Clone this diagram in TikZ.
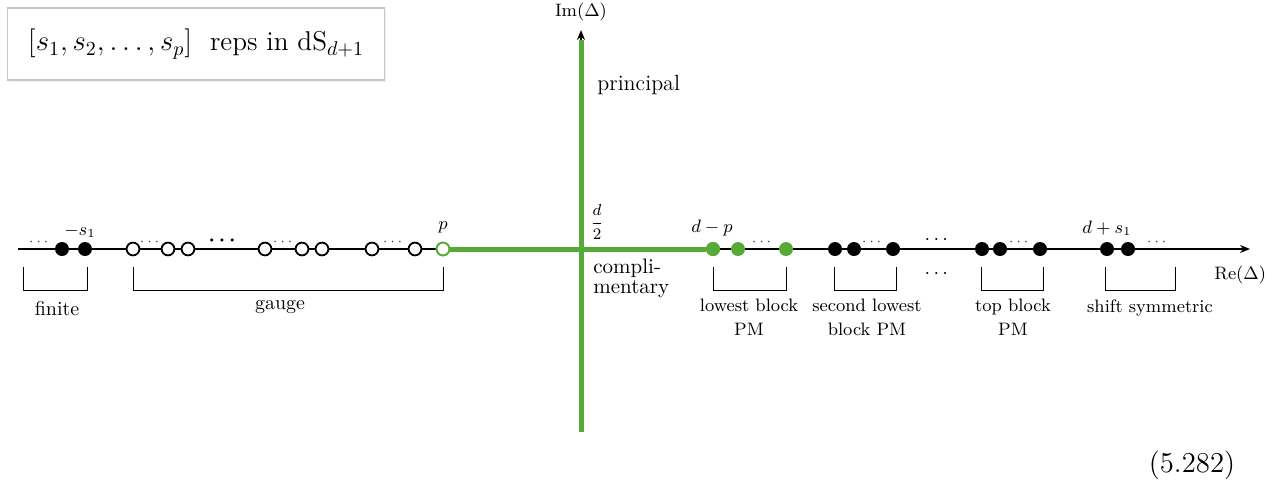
\documentclass[tikz,border=0pt]{standalone}
\usepackage{amsmath}
\usetikzlibrary{arrows.meta,shadows}
\definecolor{pgreen}{RGB}{86,170,56}
\begin{document}
\begin{tikzpicture}[x=0.5pt,y=-0.5pt,
  fdot/.style={circle,fill=black,inner sep=0pt,minimum size=7pt},
  odot/.style={circle,draw=black,fill=white,line width=0.9pt,inner sep=0pt,minimum size=6.4pt},
  gdot/.style={circle,fill=pgreen,inner sep=0pt,minimum size=7pt},
  godot/.style={circle,draw=pgreen,fill=white,line width=0.9pt,inner sep=0pt,minimum size=6.4pt},
  tdots/.style={font=\scriptsize,inner sep=0pt,text=black!80},
  bdots/.style={font=\normalsize,inner sep=0pt},
  mlab/.style={font=\fontsize{9}{11}\selectfont,inner sep=0pt},
  lab/.style={font=\fontsize{9}{12}\selectfont,align=center,inner sep=0pt},
  brk/.style={line width=0.45pt},
  axis/.style={line width=0.8pt},
  gline/.style={pgreen,line width=2.5pt}
]
\useasboundingbox (0,0) rectangle (1282,494);

% title box
\node[draw=black!22,fill=white,line width=0.6pt,minimum width=188.5pt,minimum height=36pt,
  drop shadow={shadow xshift=0.8pt,shadow yshift=-0.8pt,opacity=0.12},
  font=\fontsize{13.6}{16}\selectfont] (title) at (196,44) {$[s_1, s_2, \ldots, s_p]$\ \ reps in dS$_{d+1}$};

% axes
\coordinate (xl) at (18,249);
\coordinate (xr) at (1250,249);
\coordinate (yb) at (581,432);
\coordinate (yt) at (581,30);
\coordinate (ygt) at (581,40);
\coordinate (o) at (581,249);
\draw[axis,-{Stealth[length=5pt,width=4pt]}] (xl) -- (xr);
\draw[axis,-{Stealth[length=5pt,width=4pt]}] (yb) -- (yt);
\draw[gline] (yb) -- (ygt);

\node[mlab] (imlab) at (581,12) {Im$(\Delta)$};
\node[mlab,anchor=west] (relab) at (1214,275) {Re$(\Delta)$};
\node[font=\fontsize{11}{13}\selectfont,anchor=west,inner sep=0pt] (princ) at (597,85) {principal};

% left: finite
\node[tdots] (ld0) at (40,242) {$\cdots$};
\node[fdot] (f1) at (62,249) {};
\node[fdot] (f2) at (85,249) {};
\node[mlab] (ms1) at (80,231) {$-s_1$};

% gauge circles
\node[odot] (g1) at (133,249) {};
\node[tdots] (gd1) at (151,242) {$\cdots$};
\node[odot] (g2) at (168,249) {};
\node[odot] (g3) at (188,249) {};
\node[bdots] (gbd) at (224,241) {$\boldsymbol{\cdots}$};
\node[odot] (g4) at (265,249) {};
\node[tdots] (gd2) at (284,242) {$\cdots$};
\node[odot] (g5) at (302,249) {};
\node[odot] (g6) at (322,249) {};
\node[odot] (g7) at (372,249) {};
\node[tdots] (gd3) at (394,242) {$\cdots$};
\node[odot] (g8) at (415,249) {};

% green part
\node[godot] (gp) at (443,249) {};
\node[gdot] (c1) at (713,249) {};
\draw[gline] (gp) -- (c1);
\node[godot] (gp) at (443,249) {};
\node[gdot] (c1) at (713,249) {};
\node[gdot] (c2) at (738,249) {};
\node[tdots] (cd) at (763,242) {$\cdots$};
\node[gdot] (c3) at (786,249) {};
\node[mlab] (plab) at (443,227) {$p$};
\node[mlab] (dp) at (712,228) {$d-p$};
\node[font=\fontsize{8.5}{10}\selectfont,inner sep=0pt] (d2) at (597,222) {$\dfrac{d}{2}$};
\node[font=\fontsize{10.5}{10}\selectfont,align=left,anchor=north west,inner sep=0pt] (compl) at (593,259) {compli-\\mentary};

% second lowest block
\node[fdot] (s1) at (835,249) {};
\node[fdot] (s2) at (854,249) {};
\node[tdots] (sd) at (873,242) {$\cdots$};
\node[fdot] (s3) at (893,249) {};
\node[bdots] (mbd1) at (938,240) {$\cdots$};
\node[bdots] (mbd2) at (938,274) {$\cdots$};
% top block
\node[fdot] (t1) at (982,249) {};
\node[fdot] (t2) at (1000,249) {};
\node[tdots] (td) at (1020,242) {$\cdots$};
\node[fdot] (t3) at (1040,249) {};
% shift symmetric
\node[fdot] (h1) at (1107,249) {};
\node[fdot] (h2) at (1128,249) {};
\node[tdots] (hd) at (1158,242) {$\cdots$};
\node[mlab] (ds1) at (1107,228) {$d+s_1$};

% brackets
\coordinate (bf1) at (23,267);  \coordinate (bf2) at (87,267);
\coordinate (bg1) at (133,267); \coordinate (bg2) at (443,267);
\coordinate (bl1) at (713,267); \coordinate (bl2) at (786,267);
\coordinate (bs1) at (834,267); \coordinate (bs2) at (896,267);
\coordinate (bt1) at (981,267); \coordinate (bt2) at (1043,267);
\coordinate (bh1) at (1105,267); \coordinate (bh2) at (1175,267);
\draw[brk] (bf1) -- ++(0,23) -| (bf2);
\draw[brk] (bg1) -- ++(0,23) -| (bg2);
\draw[brk] (bl1) -- ++(0,23) -| (bl2);
\draw[brk] (bs1) -- ++(0,23) -| (bs2);
\draw[brk] (bt1) -- ++(0,23) -| (bt2);
\draw[brk] (bh1) -- ++(0,23) -| (bh2);

\node[font=\fontsize{10}{12}\selectfont,inner sep=0pt] (fin) at (57,309) {finite};
\node[font=\fontsize{10}{12}\selectfont,inner sep=0pt] (gau) at (280,307) {gauge};
\node[lab] (llab) at (749,317) {lowest block\\PM};
\node[lab] (slab) at (867,317) {second lowest\\block PM};
\node[lab] (tlab) at (1013,317) {top block\\PM};
\node[lab] (hlab) at (1150,308) {shift symmetric};

\node[font=\Large,inner sep=0pt] (eqn) at (1192,465) {(5.282)};
\end{tikzpicture}
\end{document}
